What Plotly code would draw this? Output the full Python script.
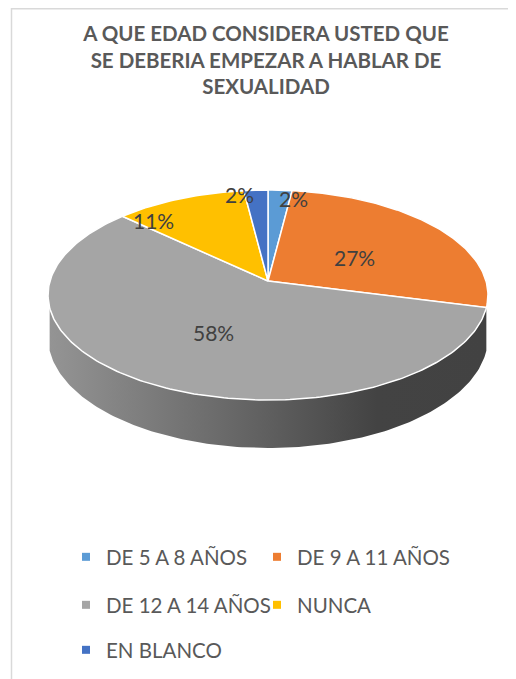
import numpy as np
import plotly.graph_objects as go

# ---------------- data ----------------
categories = ["DE 5 A 8 AÑOS", "DE 9 A 11 AÑOS", "DE 12 A 14 AÑOS", "NUNCA", "EN BLANCO"]
values = [2, 27, 58, 11, 2]
colors = ["#5B9BD5", "#ED7D31", "#A5A5A5", "#FFC000", "#4472C4"]
title_text = "A QUE EDAD CONSIDERA USTED QUE<br>SE DEBERIA EMPEZAR A HABLAR DE<br>SEXUALIDAD"

# ---------------- style / geometry ----------------
W, H = 516, 679
OFF = 8                        # page body margin
CX, APEX_Y = 268, 281          # pie apex (screen)
PA, PC = -65.67, 0.1333        # perspective parameters
VS = 0.25                      # side wall visible where v < -VS
R = 218                        # horizontal radius
DEPTH = 41.6                   # thickness
label_r = [0.90, 0.47, 0.52, 0.86, 0.95]
label_nudge = [4.6, 4.7, -2.2, -14.7, -5.2]   # degrees (best-fit placement)
legend_ids = ["legend", "legend2", "legend3", "legend4", "legend5"]
legend_pos = [(66, 557), (257, 557), (66, 605), (257, 605), (66, 650)]
FONT = "Lato"


def proj(u, v, h=0.0):
    den = 1 + PC * v
    x = CX + R * u / den
    y = (APEX_Y + PA * v) / den + h * DEPTH / den
    return x, y


def shade(hexcol, f):
    h = hexcol.lstrip("#")
    r, g, b = (int(h[i:i + 2], 16) for i in (0, 2, 4))
    return "rgb(%d,%d,%d)" % (r * f, g * f, b * f)


total = float(sum(values))
fig = go.Figure()

bounds = []
cum = 0.0
for v in values:
    t0 = 2 * np.pi * cum / total
    t1 = 2 * np.pi * (cum + v) / total
    bounds.append((t0, t1))
    cum += v

# side walls (only the part that faces the viewer)
vis_a = np.arccos(-VS)
vis_b = 2 * np.pi - vis_a
for (t0, t1), col in zip(bounds, colors):
    a, b = max(t0, vis_a), min(t1, vis_b)
    if b <= a:
        continue
    n = max(int((b - a) / (2 * np.pi) * 360), 4)
    th = np.linspace(a, b, n)
    u, vv = np.sin(th), np.cos(th)
    xt, yt = proj(u, vv, 0)
    xb, yb = proj(u, vv, 1)
    xs = np.concatenate([xt, xb[::-1], xt[:1]])
    ys = np.concatenate([yt, yb[::-1], yt[:1]])
    fig.add_trace(go.Scatter(
        x=xs, y=ys, mode="lines", fill="toself",
        line=dict(width=0, color=shade(col, 0.45)),
        fillgradient=dict(type="horizontal", start=CX - R, stop=CX + R,
                          colorscale=[[0, shade(col, 0.90)], [0.5, shade(col, 0.58)],
                                      [0.75, shade(col, 0.41)], [1, shade(col, 0.40)]]),
        hoverinfo="skip", showlegend=False))

# top faces
for (t0, t1), col, cat, v in zip(bounds, colors, categories, values):
    n = max(int((t1 - t0) / (2 * np.pi) * 360), 4)
    th = np.linspace(t0, t1, n)
    xt, yt = proj(np.sin(th), np.cos(th), 0)
    xs = np.concatenate([[CX], xt, [CX]])
    ys = np.concatenate([[APEX_Y], yt, [APEX_Y]])
    fig.add_trace(go.Scatter(
        x=xs, y=ys, mode="lines", fill="toself", fillcolor=col,
        line=dict(width=1.5, color="white"),
        name=cat, hoverinfo="name", showlegend=False))

# labels
for (t0, t1), v, rf, nd in zip(bounds, values, label_r, label_nudge):
    tm = (t0 + t1) / 2 + np.deg2rad(nd)
    lx, ly = proj(rf * np.sin(tm), rf * np.cos(tm), 0)
    fig.add_annotation(x=lx, y=ly, text=f"{v}%", showarrow=False,
                       font=dict(family=FONT, size=21, color="#404040"))

# legend entries
for cat, col, lg in zip(categories, colors, legend_ids):
    fig.add_trace(go.Scatter(x=[None], y=[None], mode="markers", name=cat,
                             marker=dict(symbol="square", size=8, color=col),
                             legend=lg))


def px_x(sx):
    return (sx - OFF) / W


def px_y(sy):
    return 1 - (sy - OFF) / H


legends = {}
for lg, (lx, ly) in zip(legend_ids, legend_pos):
    legends[lg] = dict(x=px_x(lx), y=px_y(ly), orientation="h",
                       xanchor="left", yanchor="middle",
                       font=dict(family=FONT, size=20.5, color="#595959"),
                       bgcolor="rgba(0,0,0,0)", itemclick=False, itemdoubleclick=False)

fig.update_layout(
    width=W, height=H,
    margin=dict(l=0, r=0, t=0, b=0),
    paper_bgcolor="white", plot_bgcolor="white",
    xaxis=dict(range=[OFF, W + OFF], visible=False, fixedrange=True),
    yaxis=dict(range=[H + OFF, OFF], visible=False, fixedrange=True),
    title=dict(text=title_text, x=px_x(266), xanchor="center", y=1 - 33 / H, yanchor="top",
               font=dict(family=FONT, size=20.5, color="#595959", weight="bold")),
    shapes=[dict(type="rect", xref="x", yref="y", x0=11.5, y0=OFF + 0.75, x1=W + 40, y1=H + 40,
                 line=dict(color="#D9D9D9", width=1.5), layer="below")],
    **legends,
)

fig.write_html("out.html")
